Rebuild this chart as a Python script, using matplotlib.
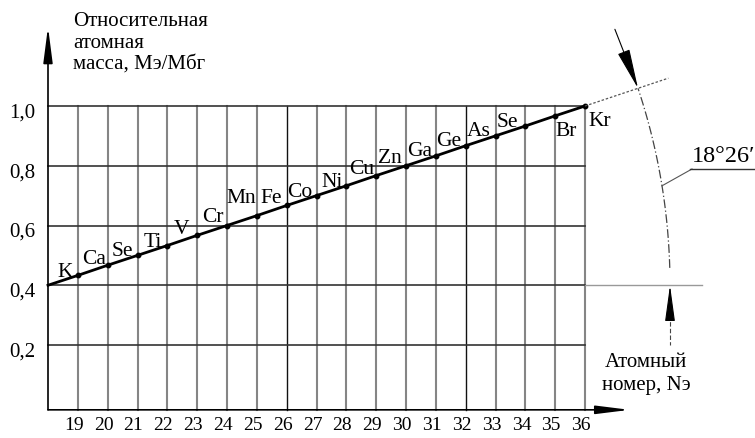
import numpy as np
import matplotlib
matplotlib.use("Agg")
import matplotlib.pyplot as plt

# ---- data ----
atomic_numbers = [19, 20, 21, 22, 23, 24, 25, 26, 27, 28, 29, 30, 31, 32, 33, 34, 35, 36]
elements = ["K", "Ca", "Se", "Ti", "V", "Cr", "Mn", "Fe", "Co", "Ni", "Cu", "Zn",
            "Ga", "Ge", "As", "Se", "Br", "Kr"]
rel_mass = [0.433, 0.467, 0.500, 0.533, 0.567, 0.600, 0.633, 0.667, 0.700, 0.733,
            0.767, 0.800, 0.833, 0.867, 0.900, 0.933, 0.967, 1.000]
line_start_n = 18
line_start_mass = 0.4
y_ticks = [0.2, 0.4, 0.6, 0.8, 1.0]
y_tick_labels = ["0,2", "0,4", "0,6", "0,8", "1,0"]
angle_label = "18°26′"
y_title = "Относительная\nатомная\nмасса, Мэ/Мбг"
x_title = "Атомный\nномер, Nэ"

# ---- style: label offsets in pixels (dx, dy, ha, va) ----
label_style = [(-5, -1, "right", "baseline"), (-2, 2, "right", "baseline"),
               (-4, 0, "right", "baseline"), (-5, 0, "right", "baseline"),
               (-8, 2, "right", "baseline"), (-3, 4, "right", "baseline"),
               (-1, 14, "right", "baseline"), (-5, 3, "right", "baseline"),
               (-4, 0, "right", "baseline"), (-4, 0, "right", "baseline"),
               (-2, 3, "right", "baseline"), (-4, 4, "right", "baseline"),
               (-4, 1, "right", "baseline"), (-4, 1, "right", "baseline"),
               (-5, 1, "right", "baseline"), (-7, 0, "right", "baseline"),
               (0, -5, "left", "top"), (3, -5, "left", "top")]

W, H = 755, 439
plt.rcParams["font.family"] = ["Liberation Serif", "DejaVu Serif"]
fig = plt.figure(figsize=(W / 100, H / 100), dpi=100)

ax = fig.add_axes([48 / W, (H - 405.75) / H, (585 - 48) / W, (405.75 - 107) / H])
ax.set_xlim(18, 36)
ax.set_ylim(0, 1)
ax.axis("off")

x_axis_y = -0.017
# vertical grid
for n in atomic_numbers:
    dark = n in (26, 32)
    ax.plot([n, n], [x_axis_y, 1.0], color="#111111" if dark else "#858585",
            lw=1.0 if dark else 1.5, clip_on=False, zorder=1)
# horizontal grid
for v in y_ticks:
    ax.plot([18, 36], [v, v], color="#333333", lw=1.2, clip_on=False, zorder=1)

# axes with arrows
ax.annotate("", xy=(18, 1.265), xytext=(18, x_axis_y),
            arrowprops=dict(arrowstyle="-|>,head_length=1.55,head_width=0.2",
                            mutation_scale=14, color="black", lw=1.2,
                            shrinkA=0, shrinkB=0), annotation_clip=False)
ax.annotate("", xy=(37.5, x_axis_y), xytext=(18, x_axis_y),
            arrowprops=dict(arrowstyle="-|>,head_length=1.45,head_width=0.18",
                            mutation_scale=14, color="black", lw=1.2,
                            shrinkA=0, shrinkB=0), annotation_clip=False)

# main line and points
ax.plot([line_start_n] + atomic_numbers, [line_start_mass] + rel_mass,
        color="black", lw=2.0, clip_on=False, zorder=3)
ax.plot(atomic_numbers, rel_mass, "o", color="black", ms=3.2, clip_on=False, zorder=4)

for n, m, name, (dx, dy, ha, va) in zip(atomic_numbers, rel_mass, elements, label_style):
    ax.annotate(name, (n, m), xytext=(dx, dy), textcoords="offset pixels",
                ha=ha, va=va, fontsize=15.5, annotation_clip=False, zorder=5)

# tick labels
for n in atomic_numbers:
    ax.annotate(str(n), (n, x_axis_y), xytext=(-4, -19), textcoords="offset pixels",
                ha="center", va="baseline", fontsize=14, annotation_clip=False)
for v, lab in zip(y_ticks, y_tick_labels):
    ax.annotate(lab, (18, v), xytext=(-13, -6), textcoords="offset pixels",
                ha="right", va="center", fontsize=15, annotation_clip=False)

# ---- overlay in pixel coordinates for the angle dimension ----
ov = fig.add_axes([0, 0, 1, 1])
ov.set_xlim(0, W)
ov.set_ylim(0, H)
ov.axis("off")
ov.patch.set_alpha(0)

c = ax.transData.transform((line_start_n, line_start_mass))
kr = ax.transData.transform((atomic_numbers[-1], rel_mass[-1]))
cx, cy = c
ang = np.arctan2(kr[1] - cy, kr[0] - cx)
R = 622.0

# dotted extension of the line
ov.plot([kr[0], cx + 654 * np.cos(ang)], [kr[1], cy + 654 * np.sin(ang)],
        color="#555555", lw=0.9, ls=(0, (2, 1.5)))
# extension of 0.4 line
end36 = ax.transData.transform((36, line_start_mass))
ov.plot([end36[0], cx + 654], [cy, cy], color="#999999", lw=1.0)

# dashed arc
t = np.linspace(np.deg2rad(1.6), ang, 100)
ov.plot(cx + R * np.cos(t), cy + R * np.sin(t), color="#444444", lw=0.9,
        ls=(0, (7, 2, 1, 2)))
# upper arrow along arc
a0 = np.deg2rad(24.3)
ov.annotate("", xy=(cx + R * np.cos(ang), cy + R * np.sin(ang)),
            xytext=(cx + R * np.cos(a0), cy + R * np.sin(a0)),
            arrowprops=dict(arrowstyle="-|>,head_length=1.8,head_width=0.28",
                            mutation_scale=14, color="black", lw=0.8,
                            shrinkA=0, shrinkB=0))
# lower arrow
ov.annotate("", xy=(cx + R, cy), xytext=(cx + R, cy - 30),
            arrowprops=dict(arrowstyle="-|>,head_length=1.6,head_width=0.22",
                            mutation_scale=14, color="black", lw=0.8,
                            shrinkA=0, shrinkB=0))
ov.plot([cx + R, cx + R], [cy - 30, cy - 60], color="#444444", lw=0.8, ls=(0, (4, 2)))

# angle label with leader and underline
am = np.deg2rad(9.2)
px, py = cx + R * np.cos(am), cy + R * np.sin(am)
ov.plot([px, 692], [py, H - 170], color="#555555", lw=0.8)
ov.plot([690, 755], [H - 170, H - 170], color="#333333", lw=1.0)
ov.text(692, H - 167, angle_label, ha="left", va="bottom", fontsize=17.5)

# axis titles
ov.text(73, H - 12, y_title, ha="left", va="top", fontsize=15, linespacing=1.18)
ov.text(646, H - 374, x_title, ha="center", va="center", fontsize=15, linespacing=1.35)

fig.savefig("out.png", dpi=100, facecolor="white")
